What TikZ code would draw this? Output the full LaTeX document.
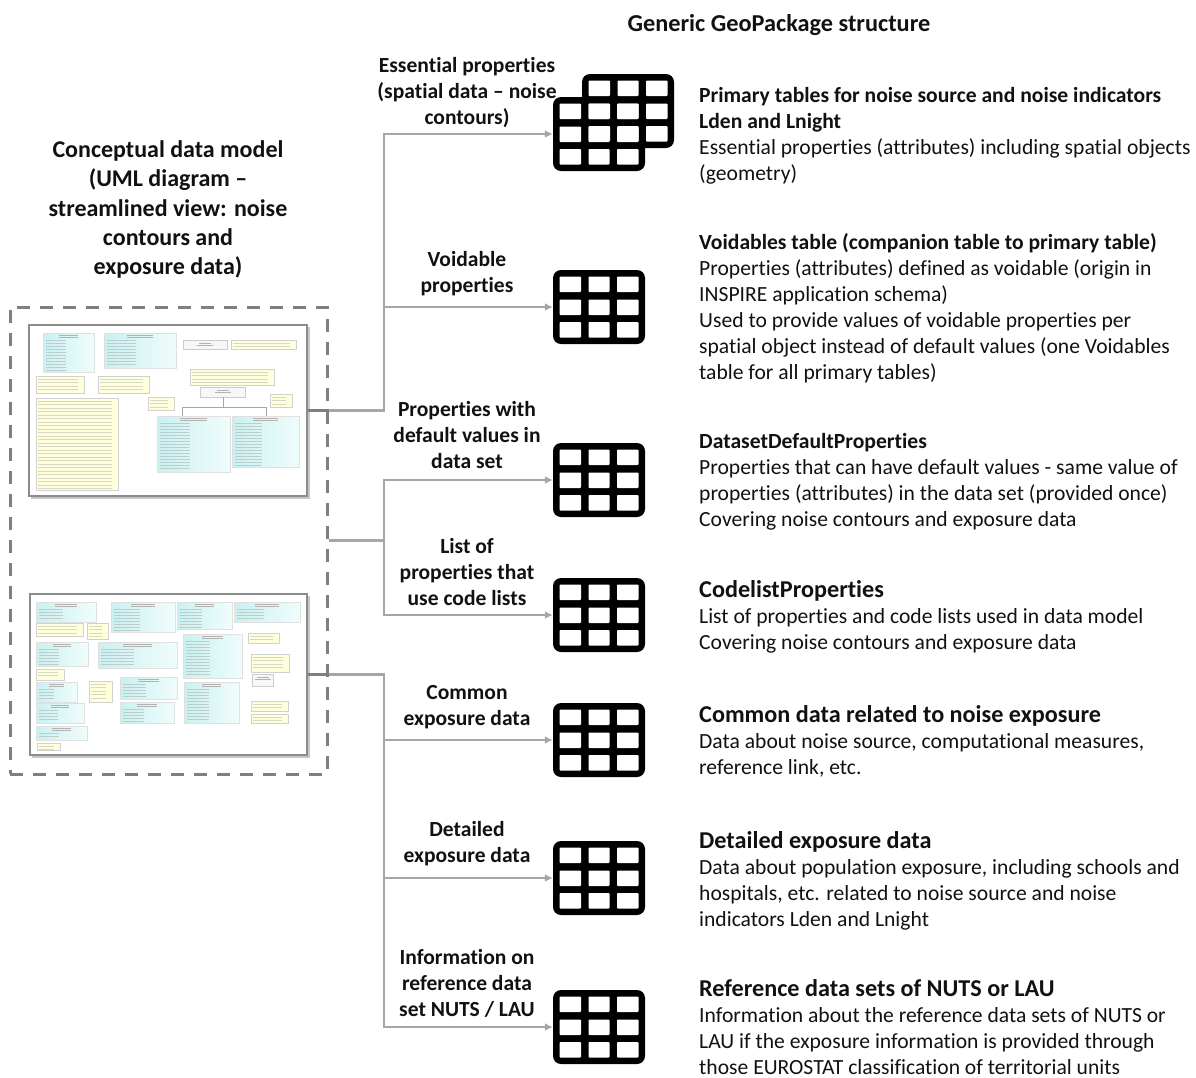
\documentclass[tikz,border=0pt]{standalone}
\usepackage{fontspec}
\setmainfont[Ligatures=CommonOff]{Carlito}
\usetikzlibrary{arrows.meta}
\definecolor{conn}{HTML}{A6A6A6}
\definecolor{dashc}{HTML}{7F7F7F}
\definecolor{ink}{HTML}{111111}
\definecolor{cyanL}{HTML}{C9F1F1}
\definecolor{cyanR}{HTML}{F0FCFC}
\definecolor{noteY}{HTML}{FFFFDC}
\tikzset{
  connector/.style={draw=conn,line width=2.6pt,-{Latex[length=8pt,width=8pt]}},
  plainconn/.style={draw=conn,line width=2.6pt},
  iconbox/.style={fill=black,rounded corners=8pt,minimum width=92pt,minimum height=74pt,inner sep=0pt},
  cellbox/.style={fill=white,rounded corners=.8pt},
  framebox/.style={draw=dashc,line width=3pt,dash pattern=on 13pt off 10pt,minimum width=317pt,minimum height=467pt,inner sep=0pt},
  thumb/.style={draw=dashc!90,line width=1.6pt,fill=white,inner sep=0pt},
  shadowbox/.style={fill=black!22},
  titletext/.style={font=\fontsize{24}{29.3}\selectfont\bfseries,align=center,text=ink,inner sep=0pt},
  headtext/.style={font=\fontsize{24.3}{27}\selectfont\bfseries,align=center,text=ink,inner sep=0pt},
  midtext/.style={font=\fontsize{21.55}{26}\selectfont\bfseries,align=center,text=ink,inner sep=0pt},
  bodytext/.style={font=\fontsize{21.6}{26}\selectfont,align=left,anchor=north west,text=ink,inner sep=0pt},
  umlline/.style={draw=black!30,line width=.45pt},
}
\newcommand{\headfont}{\fontsize{24.2}{26}\selectfont\bfseries}
\newcommand{\cellsat}[2]{%
  \foreach \cxa/\cxb in {-39.5/-18,-10.5/10.5,18/39.5}{
    \foreach \cya/\cyb in {-30.5/-15,-7.5/8,15/30.5}{
      \path[cellbox] (#1+\cxa,#2+\cya) rectangle (#1+\cxb,#2+\cyb);
    }}}
\newcommand{\umlbody}[4]{%
  \pgfmathsetmacro{\ya}{#2+7.5}\pgfmathsetmacro{\yb}{#2+10.5}\pgfmathsetmacro{\yc}{#4-1.5}%
  \pgfmathsetmacro{\xa}{#1+3}\pgfmathsetmacro{\xb}{#1+0.45*(#3-#1)}%
  \pgfmathsetmacro{\xma}{0.5*(#1+#3)-0.18*(#3-#1)}\pgfmathsetmacro{\xmb}{0.5*(#1+#3)+0.18*(#3-#1)}%
  \draw[umlline] (\xma,#2+2.5) -- (\xmb,#2+2.5);
  \draw[umlline] (\xma,#2+4.5) -- (\xmb,#2+4.5);
  \foreach \yy in {\ya,\yb,...,\yc}{\draw[umlline,draw opacity=.6] (\xa,\yy) -- (\xb,\yy);}
}
\newcommand{\umlc}[4]{%
  \path[left color=cyanL,right color=cyanR,draw=black!12,line width=.5pt] (#1,#2) rectangle (#3,#4);
  \umlbody{#1}{#2}{#3}{#4}}
\newcommand{\umlw}[4]{%
  \path[fill=black!3,draw=black!20,line width=.5pt] (#1,#2) rectangle (#3,#4);
  \draw[umlline] ({0.5*(#1+#3)-6},#2+3.5) -- ({0.5*(#1+#3)+6},#2+3.5);
  \draw[umlline] ({0.5*(#1+#3)-8},#2+5.5) -- ({0.5*(#1+#3)+8},#2+5.5);}
\newcommand{\umln}[4]{%
  \path[fill=noteY,draw=black!18,line width=.5pt] (#1,#2) rectangle (#3,#4);
  \pgfmathsetmacro{\ya}{#2+3}\pgfmathsetmacro{\yb}{#2+6.5}\pgfmathsetmacro{\yc}{#4-1.5}%
  \pgfmathsetmacro{\xa}{#1+2}\pgfmathsetmacro{\xb}{#3-6}%
  \foreach \yy in {\ya,\yb,...,\yc}{\draw[umlline,draw opacity=.5] (\xa,\yy) -- (\xb,\yy);}
}
\begin{document}
\begin{tikzpicture}[x=1pt,y=-1pt]
\useasboundingbox (0,0) rectangle (1196,1077);

% Headings
\node[headtext] (hgeneric) at (779,25) {Generic GeoPackage structure};
\node[titletext] (htitle) at (168,209.5) {Conceptual data model\\(UML diagram --\\streamlined view: noise\\contours and\\exposure data)};

% Dashed frame
\node[framebox] (dbox) at (168.5,540.5) {};

% Thumbnail 1
\path[shadowbox] (31,327) rectangle (310,499);
\node[thumb,minimum width=278pt,minimum height=171pt] (u1) at (168,410.5) {};
\umlc{43}{333}{94}{372}
\umlc{104}{333}{176}{368}
\umlw{183}{340}{227}{349}
\umln{231}{340}{296}{349}
\umln{36}{376}{84}{393}
\umln{98}{376}{149}{393}
\umln{190}{369}{274}{385}
\umlw{200}{387}{245}{397}
\umln{148}{397}{174}{410}
\umln{270}{394}{292}{407}
\umln{36}{398}{118}{490}
\draw[black!35,line width=.5pt] (182,416) -- (182,407) -- (266,407) -- (266,416) (223,407) -- (223,397);
\umlc{157}{416}{230}{472}
\umlc{232}{416}{299}{467}

% Thumbnail 2
\path[shadowbox] (32,596) rectangle (310,758);
\node[thumb,minimum width=277pt,minimum height=161pt] (u2) at (168.5,674.5) {};
\umlc{36}{602}{96}{622}
\umlc{111}{602}{175}{632}
\umlc{177}{602}{232}{629}
\umlc{234}{602}{300}{622}
\umln{36}{623}{83}{636}
\umln{87}{623}{108}{639}
\umlc{36}{642}{88}{666}
\umlc{98}{642}{177}{668}
\umlc{183}{634}{242}{678}
\umln{248}{633}{279}{643}
\umln{251}{654}{289}{672}
\umln{36}{669}{64}{680}
\umlc{36}{682}{77}{702}
\umln{89}{681}{112}{702}
\umlc{120}{677}{177}{699}
\umlw{252}{674}{273}{686}
\umlc{184}{682}{239}{723}
\umlc{36}{703}{84}{723}
\umlc{120}{702}{174}{723}
\umln{251}{701}{288}{711}
\umln{251}{714}{288}{723}
\umlc{36}{726}{87}{740}
\umln{37}{743}{60}{750}

% Table icons
\node[iconbox] (i0) at (628,111) {};
\node[iconbox] (i1) at (599,134) {};
\cellsat{628}{111}
\cellsat{599}{134}
\node[iconbox] (i2) at (599,307) {}; \cellsat{599}{307}
\node[iconbox] (i3) at (599,480) {}; \cellsat{599}{480}
\node[iconbox] (i4) at (599,615) {}; \cellsat{599}{615}
\node[iconbox] (i5) at (599,740) {}; \cellsat{599}{740}
\node[iconbox] (i6) at (599,878) {}; \cellsat{599}{878}
\node[iconbox] (i7) at (599,1027) {}; \cellsat{599}{1027}

% Connectors
\coordinate (j1) at (384,410.5);
\coordinate (j2) at (384,540.5);
\coordinate (j3) at (384,674.5);
\draw[plainconn,draw=dashc] (u1.east) -- (dbox.east |- u1.east);
\draw[plainconn,draw=dashc] (u2.east) -- (dbox.east |- u2.east);
\draw[connector] (dbox.east |- u1.east) -- (j1) |- (i1.west);
\draw[connector] (j1) |- (i2.west);
\draw[connector] (dbox.east) -- (j2) |- (i3.west);
\draw[connector] (j2) |- (i4.west);
\draw[connector] (dbox.east |- u2.east) -- (j3) |- (i5.west);
\draw[connector] (j3) |- (i6.west);
\draw[connector] (j3) |- (i7.west);

% Connector labels
\node[midtext] (m1) at (467,92.5) {Essential properties\\(spatial data -- noise\\contours)};
\node[midtext] (m2) at (467,273.5) {Voidable\\properties};
\node[midtext] (m3) at (467,435.5) {Properties with\\default values in\\data set};
\node[midtext] (m4) at (467,572) {List of\\properties that\\use code lists};
\node[midtext] (m5) at (467,707.5) {Common\\exposure data};
\node[midtext] (m6) at (467,844) {Detailed\\exposure data};
\node[midtext] (m7) at (467,983) {Information on\\reference data\\set NUTS / LAU};

% Descriptions
\node[bodytext] (t1) at (699,84) {\strut\textbf{Primary tables for noise source and noise indicators}\\\textbf{Lden and Lnight}\\Essential properties (attributes) including spatial objects\\(geometry)};
\node[bodytext] (t2) at (699,231) {\strut\textbf{Voidables table (companion table to primary table)}\\Properties (attributes) defined as voidable (origin in\\INSPIRE application schema)\\Used to provide values of voidable properties per\\spatial object instead of default values (one Voidables\\table for all primary tables)};
\node[bodytext] (t3) at (699,430) {\strut\textbf{DatasetDefaultProperties}\\Properties that can have default values - same value of\\properties (attributes) in the data set (provided once)\\Covering noise contours and exposure data};
\node[bodytext] (t4) at (699,579.5) {\strut{\headfont CodelistProperties}\\List of properties and code lists used in data model\\Covering noise contours and exposure data};
\node[bodytext] (t5) at (699,704) {\strut{\headfont Common data related to noise exposure}\\Data about noise source, computational measures,\\reference link, etc.};
\node[bodytext] (t6) at (699,830) {\strut{\headfont Detailed exposure data}\\Data about population exposure, including schools and\\hospitals, etc. related to noise source and noise\\indicators Lden and Lnight};
\node[bodytext] (t7) at (699,978) {\strut{\headfont Reference data sets of NUTS or LAU}\\Information about the reference data sets of NUTS or\\LAU if the exposure information is provided through\\those EUROSTAT classification of territorial units};
\end{tikzpicture}
\end{document}
